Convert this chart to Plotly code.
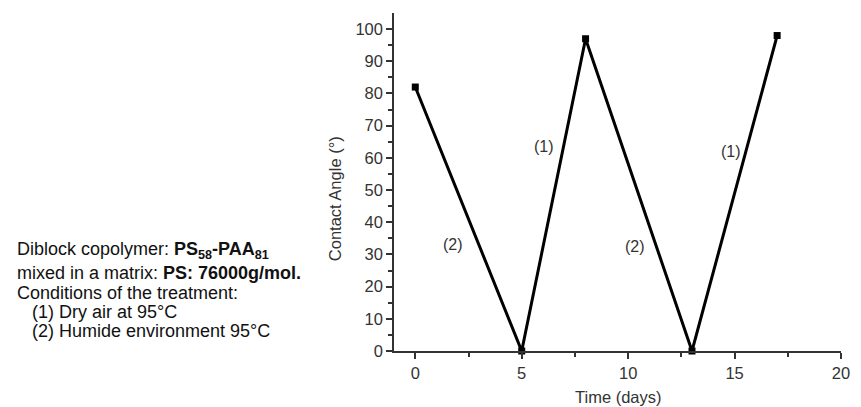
import plotly.graph_objects as go

# Data
time_days = [0, 5, 8, 13, 17]
contact_angle = [82, 0, 97, 0, 98]

# Segment labels (treatment conditions)
label_text = ["(2)", "(1)", "(2)", "(1)"]
label_x = [1.75, 6.05, 10.3, 14.85]
label_y = [33, 63.5, 32.5, 62]

# Side legend text lines
info_lines = [
    "Diblock copolymer: <b>PS<sub>58</sub>-PAA<sub>81</sub></b>",
    "mixed in a matrix: <b>PS: 76000g/mol.</b>",
    "Conditions of the treatment:",
    "\u00a0\u00a0\u00a0(1) Dry air at 95°C",
    "\u00a0\u00a0\u00a0(2) Humide environment 95°C",
]

x_ticks = [0, 5, 10, 15, 20]
y_ticks = list(range(0, 101, 10))

FONT = "Liberation Sans, Arial, sans-serif"
W, H = 861, 407
ML, MR, MT, MB = 394, 11, 13, 56
PW = W - ML - MR
PH = H - MT - MB

fig = go.Figure()
fig.add_trace(go.Scatter(
    x=time_days, y=contact_angle, mode="lines+markers",
    line=dict(color="#000000", width=3),
    marker=dict(symbol="square", size=7, color="#000000"),
    showlegend=False, cliponaxis=False,
))

annotations = []
for t, x, y in zip(label_text, label_x, label_y):
    annotations.append(dict(x=x, y=y, xref="x", yref="y", text=t, showarrow=False,
                            font=dict(family=FONT, size=16, color="#333333")))

# left info text, one annotation per line
centers_px = [250.5, 273.0, 292.5, 311.5, 331.0]
for line, cy in zip(info_lines, centers_px):
    annotations.append(dict(
        x=(7 - ML) / PW, y=(H - MB - cy) / PH, xref="paper", yref="paper",
        xanchor="left", yanchor="middle", align="left", text=line, showarrow=False,
        font=dict(family=FONT, size=18, color="#111111")))

# axis titles
annotations.append(dict(x=(334 - ML) / PW, y=(H - MB - 199) / PH, xref="paper", yref="paper",
                        text="Contact Angle (°)", textangle=-90, showarrow=False,
                        xanchor="center", yanchor="middle",
                        font=dict(family=FONT, size=16.5, color="#333333")))
annotations.append(dict(x=0.5, y=(H - MB - 397) / PH, xref="paper", yref="paper",
                        text="Time (days)", showarrow=False,
                        xanchor="center", yanchor="middle",
                        font=dict(family=FONT, size=16.5, color="#333333")))

fig.update_layout(
    width=W, height=H,
    margin=dict(l=ML, r=MR, t=MT, b=MB, pad=0),
    paper_bgcolor="white", plot_bgcolor="white",
    font=dict(family=FONT, size=16, color="#333333"),
    annotations=annotations,
    xaxis=dict(range=[-1, 20], tickvals=x_ticks, ticktext=[str(v) for v in x_ticks],
               showgrid=False, zeroline=False, showline=True, linecolor="#333333", linewidth=1.5,
               ticks="outside", ticklen=6, tickwidth=1.5, tickcolor="#333333",
               tickfont=dict(family=FONT, size=16.5, color="#333333"),
               minor=dict(tickvals=[2.5, 7.5, 12.5, 17.5], ticks="outside", ticklen=4,
                          tickwidth=1.5, tickcolor="#333333", showgrid=False)),
    yaxis=dict(range=[0, 105], tickvals=y_ticks, ticktext=[str(v) for v in y_ticks],
               showgrid=False, zeroline=False, showline=True, linecolor="#333333", linewidth=1.5,
               ticks="outside", ticklen=6, tickwidth=1.5, tickcolor="#333333",
               tickfont=dict(family=FONT, size=16.5, color="#333333"),
               minor=dict(tickvals=list(range(5, 105, 10)), ticks="outside", ticklen=4,
                          tickwidth=1.5, tickcolor="#333333", showgrid=False)),
)

fig.write_html("out.html")
